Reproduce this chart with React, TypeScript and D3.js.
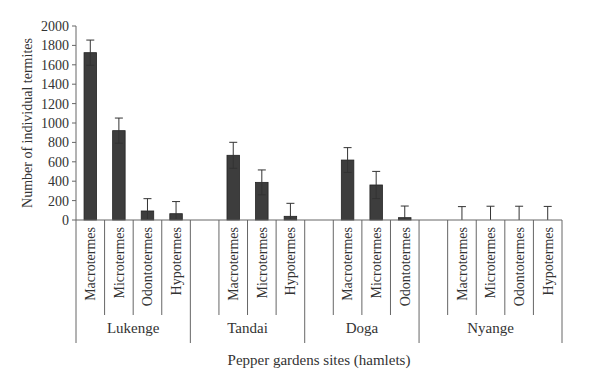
import * as d3 from 'd3';

// termite counts per pepper garden site (mean ± error)
const SITES = ['Lukenge', 'Tandai', 'Doga', 'Nyange'];
const LUKENGE_GENERA = ['Macrotermes', 'Microtermes', 'Odontotermes', 'Hypotermes'];
const TANDAI_GENERA = ['Macrotermes', 'Microtermes', 'Hypotermes'];
const DOGA_GENERA = ['Macrotermes', 'Microtermes', 'Odontotermes'];
const NYANGE_GENERA = ['Macrotermes', 'Microtermes', 'Odontotermes', 'Hypotermes'];
const LUKENGE_MEANS = [1725, 921, 93, 65];
const TANDAI_MEANS = [667, 388, 38];
const DOGA_MEANS = [618, 361, 24];
const NYANGE_MEANS = [0, 0, 0, 0];
const LUKENGE_ERR = [130, 130, 127, 125];
const TANDAI_ERR = [134, 128, 134];
const DOGA_ERR = [128, 140, 120];
const NYANGE_ERR = [138, 142, 142, 140];
const Y_TICKS = [0, 200, 400, 600, 800, 1000, 1200, 1400, 1600, 1800, 2000];

const GENERA = [LUKENGE_GENERA, TANDAI_GENERA, DOGA_GENERA, NYANGE_GENERA];
const MEANS = [LUKENGE_MEANS, TANDAI_MEANS, DOGA_MEANS, NYANGE_MEANS];
const ERRS = [LUKENGE_ERR, TANDAI_ERR, DOGA_ERR, NYANGE_ERR];

const W = 600;
const H = 388;
const M = { top: 26, left: 76, right: 38, bottom: 168 };
const FONT = '"Liberation Serif", "Times New Roman", serif';
const INK = '#333';

type Slot = { key: string; site: number; genus: string | null; value: number; err: number; groupStart: boolean };

// one blank slot before every site except the first
const slots: Slot[] = [];
SITES.forEach((s, i) => {
  if (i > 0) slots.push({ key: `${s}-gap`, site: i, genus: null, value: 0, err: 0, groupStart: true });
  GENERA[i].forEach((g, j) => {
    slots.push({ key: `${s}-${g}`, site: i, genus: g, value: MEANS[i][j], err: ERRS[i][j], groupStart: i === 0 && j === 0 });
  });
});

export default function App() {
  const x = d3.scaleBand().domain(slots.map(d => d.key)).range([M.left, W - M.right]);
  const y = d3.scaleLinear().domain([0, 2000]).range([H - M.bottom, M.top]);
  const base = y(0);
  const bw = x.bandwidth();
  const barW = 12.5;
  const cap = 4;
  const shortY = 315;
  const longY = 343;

  const groups = SITES.map((s, i) => {
    const mine = slots.filter(d => d.site === i);
    const x0 = x(mine[0].key)!;
    const x1 = x(mine[mine.length - 1].key)! + bw;
    return { name: s, x0, x1 };
  });

  return (
    <svg width={W} height={H} style={{ position: 'absolute', left: 0, top: 0, background: '#fff' }} fontFamily={FONT}>
      {/* y axis */}
      <line x1={M.left} x2={M.left} y1={y(2000)} y2={base} stroke="#666" />
      {Y_TICKS.map(t => (
        <g key={t}>
          <line x1={M.left - 4} x2={M.left} y1={y(t)} y2={y(t)} stroke="#666" />
          <text x={M.left - 7} y={y(t)} dy="0.35em" textAnchor="end" fontSize={14} fill={INK}>{t}</text>
        </g>
      ))}
      <text transform={`translate(27,${(y(2000) + base) / 2}) rotate(-90)`} textAnchor="middle" dy="0.35em" fontSize={14} fill={INK}>
        Number of individual termites
      </text>

      {/* bars + error bars */}
      {slots.filter(d => d.genus).map(d => {
        const cx = x(d.key)! + bw / 2;
        const lo = Math.max(0, d.value - d.err);
        const hi = d.value + d.err;
        return (
          <g key={d.key}>
            {d.value > 0 && (
              <rect x={cx - barW / 2} y={y(d.value)} width={barW} height={base - y(d.value)} fill="#3d3d3d" stroke="#222" strokeWidth={0.8} />
            )}
            <line x1={cx} x2={cx} y1={y(hi)} y2={y(lo)} stroke="#333" strokeWidth={1} />
            <line x1={cx - cap} x2={cx + cap} y1={y(hi)} y2={y(hi)} stroke="#333" strokeWidth={1} />
            {lo > 0 && <line x1={cx - cap} x2={cx + cap} y1={y(lo)} y2={y(lo)} stroke="#333" strokeWidth={1} />}
          </g>
        );
      })}

      {/* x axis baseline and category dividers */}
      <line x1={M.left} x2={W - M.right} y1={base} y2={base} stroke="#666" />
      {slots.map(d => (
        <line key={`div-${d.key}`} x1={x(d.key)!} x2={x(d.key)!} y1={base} y2={d.groupStart ? longY : shortY} stroke="#666" />
      ))}
      <line x1={W - M.right} x2={W - M.right} y1={base} y2={longY} stroke="#666" />

      {slots.filter(d => d.genus).map(d => (
        <text
          key={`lab-${d.key}`}
          transform={`translate(${x(d.key)! + bw / 2},${base + 7}) rotate(-90)`}
          textAnchor="end"
          dy="0.35em"
          fontSize={14}
          fill={INK}
        >
          {d.genus}
        </text>
      ))}

      {groups.map(g => (
        <text key={g.name} x={(g.x0 + g.x1) / 2} y={333} textAnchor="middle" fontSize={15} fill={INK}>{g.name}</text>
      ))}

      <text x={(M.left + W - M.right) / 2} y={365} textAnchor="middle" fontSize={15} fill={INK}>
        Pepper gardens sites (hamlets)
      </text>
    </svg>
  );
}
